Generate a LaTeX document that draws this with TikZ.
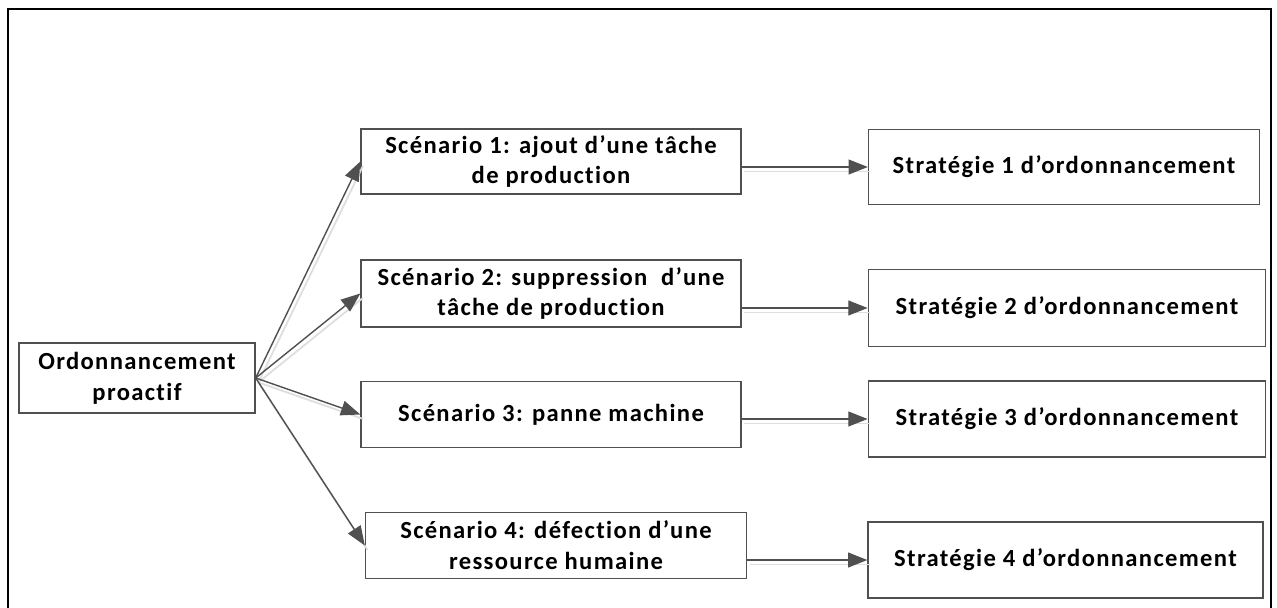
\documentclass[tikz,border=0pt]{standalone}
\usepackage{fontspec}
\setmainfont{Carlito}[LetterSpace=5.5, Ligatures=NoCommon]
\usetikzlibrary{arrows.meta}
\definecolor{edgegray}{RGB}{80,80,80}
\definecolor{shadowgray}{RGB}{222,222,222}
\tikzset{
  box/.style={draw=edgegray, line width=0.8pt, align=center, inner sep=0pt,
              font=\bfseries\fontsize{14}{17.5}\selectfont},
  flow/.style={draw=edgegray, line width=0.8pt, -{Triangle[length=11pt,width=8.5pt]}},
  flowshadow/.style={draw=shadowgray, line width=1pt,
                     transform canvas={xshift=1.5pt,yshift=-2.5pt}}
}

\begin{document}
\begin{tikzpicture}[x=0.02cm,y=-0.02cm]
  \clip (0,0) rectangle (1277,608);
  \fill[white] (0,0) rectangle (1277,608);
  % outer frame (bottom edge cut off)
  \draw[line width=1.2pt] (8,9) rectangle (1271,620);

  % root
  \node[box, minimum width=4.72cm, minimum height=1.4cm] (ord) at (137,378)
       {Ordonnancement\\proactif};

  % scenarios
  \node[box, minimum width=7.6cm, minimum height=1.3cm] (sc1) at (551,161.5)
       {Scénario 1: ajout d’une tâche\\de production};
  \node[box, minimum width=7.6cm, minimum height=1.34cm] (sc2) at (551,293.5)
       {Scénario 2: suppression \ d’une\\tâche de production};
  \node[box, minimum width=7.6cm, minimum height=1.32cm] (sc3) at (551,414.5)
       {Scénario 3: panne machine};
  \node[box, minimum width=7.62cm, minimum height=1.32cm] (sc4) at (556,545.5)
       {Scénario 4: défection d’une\\ressource humaine};

  % strategies
  \node[box, minimum width=7.82cm, minimum height=1.51cm] (st1) at (1064,167)
       {Stratégie 1 d’ordonnancement};
  \node[box, minimum width=7.95cm, minimum height=1.54cm] (st2) at (1067,308)
       {Stratégie 2 d’ordonnancement};
  \node[box, minimum width=7.95cm, minimum height=1.52cm] (st3) at (1067,419)
       {Stratégie 3 d’ordonnancement};
  \node[box, minimum width=7.9cm, minimum height=1.52cm] (st4) at (1065.5,560)
       {Stratégie 4 d’ordonnancement};

  % arrows
  \foreach \i in {1,...,4} {
    \draw[flowshadow] (ord.east) -- (sc\i.west);
    \draw[flow] (ord.east) -- (sc\i.west);
    \draw[flowshadow] (st\i.west -| sc\i.east) -- (st\i.west);
    \draw[flow] (st\i.west -| sc\i.east) -- (st\i.west);
  }
\end{tikzpicture}
\end{document}
